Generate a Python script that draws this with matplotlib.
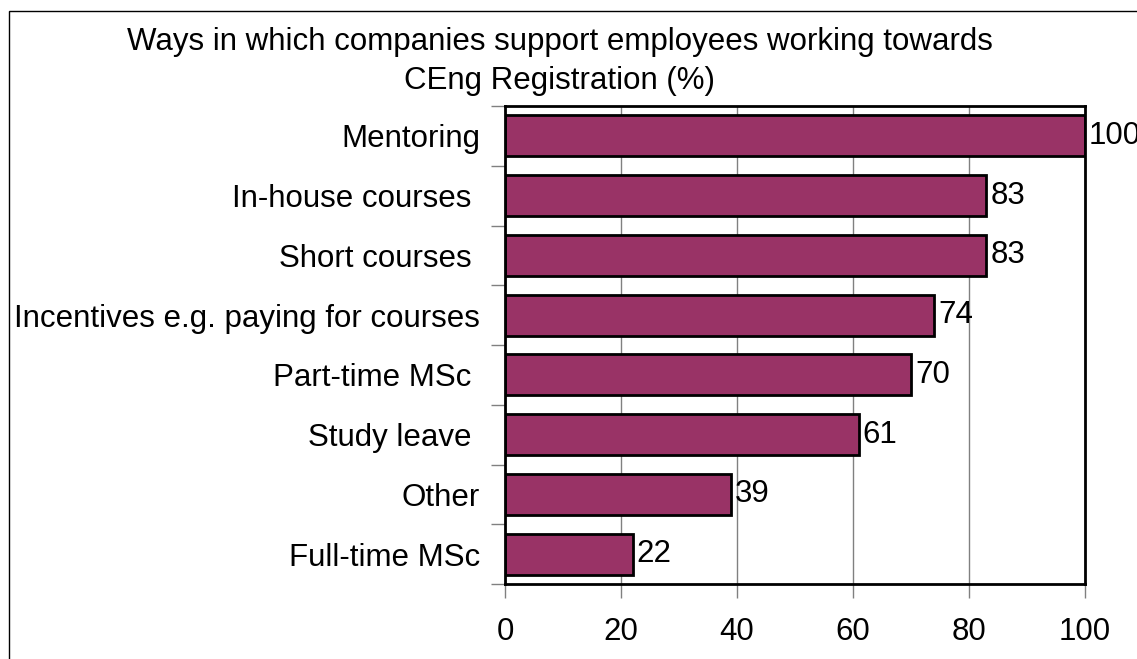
import matplotlib.pyplot as plt
from matplotlib.patches import Rectangle
import numpy as np

plt.rcParams['font.family'] = ['Liberation Sans', 'DejaVu Sans']

# survey results, top to bottom
categories = ['Mentoring', 'In-house courses ', 'Short courses ',
              'Incentives e.g. paying for courses', 'Part-time MSc ',
              'Study leave ', 'Other', 'Full-time MSc']
percent = [100, 83, 83, 74, 70, 61, 39, 22]
xticks = [0, 20, 40, 60, 80, 100]

title_lines = ['Ways in which companies support employees working towards',
               'CEng Registration (%)']

W, H = 1137, 659
fig = plt.figure(figsize=(W / 100, H / 100), dpi=100)
ax = fig.add_axes([505 / W, 1 - 584 / H, 580 / W, 478 / H])

fs = 22.5
bar_col = '#993366'
grid_col = '#808080'

y = np.arange(len(categories))
ax.barh(y, percent, height=0.69, color=bar_col, edgecolor='black',
        linewidth=2, zorder=3)

for yi, v in zip(y, percent):
    ax.annotate(str(v), (v, yi), xytext=(4, 0), textcoords='offset pixels',
                va='center', ha='left', fontsize=fs, clip_on=False)

ax.set_xlim(0, 100)
ax.set_ylim(len(categories) - 0.5, -0.5)

# ticks on the category boundaries, labels at the centres
ax.set_yticks(np.arange(len(categories) + 1) - 0.5)
ax.set_yticklabels([])
ax.set_yticks(y, minor=True)
ax.set_yticklabels(categories, minor=True, fontsize=fs)
ax.tick_params(axis='y', which='major', length=10, width=1, color=grid_col)
ax.tick_params(axis='y', which='minor', length=0, pad=18)

ax.set_xticks(xticks)
ax.set_xticklabels([str(t) for t in xticks], fontsize=fs)
ax.tick_params(axis='x', length=10, width=1, color=grid_col, pad=14)

ax.grid(axis='x', color=grid_col, linewidth=1, zorder=0)
ax.set_axisbelow(True)
for s in ax.spines.values():
    s.set_linewidth(2)
    s.set_color('black')
    s.set_zorder(4)

# two-line title, baselines set separately
for line, base in zip(title_lines, [50, 89]):
    fig.text(560 / W, 1 - base / H, line, ha='center', va='baseline',
             fontsize=fs)

# chart-area frame
fig.patches.append(Rectangle((9 / W, -0.2), 1.2, 1.2 - 11 / H,
                             transform=fig.transFigure, fill=False,
                             edgecolor='black', linewidth=1))

fig.savefig('out.png', dpi=100)
